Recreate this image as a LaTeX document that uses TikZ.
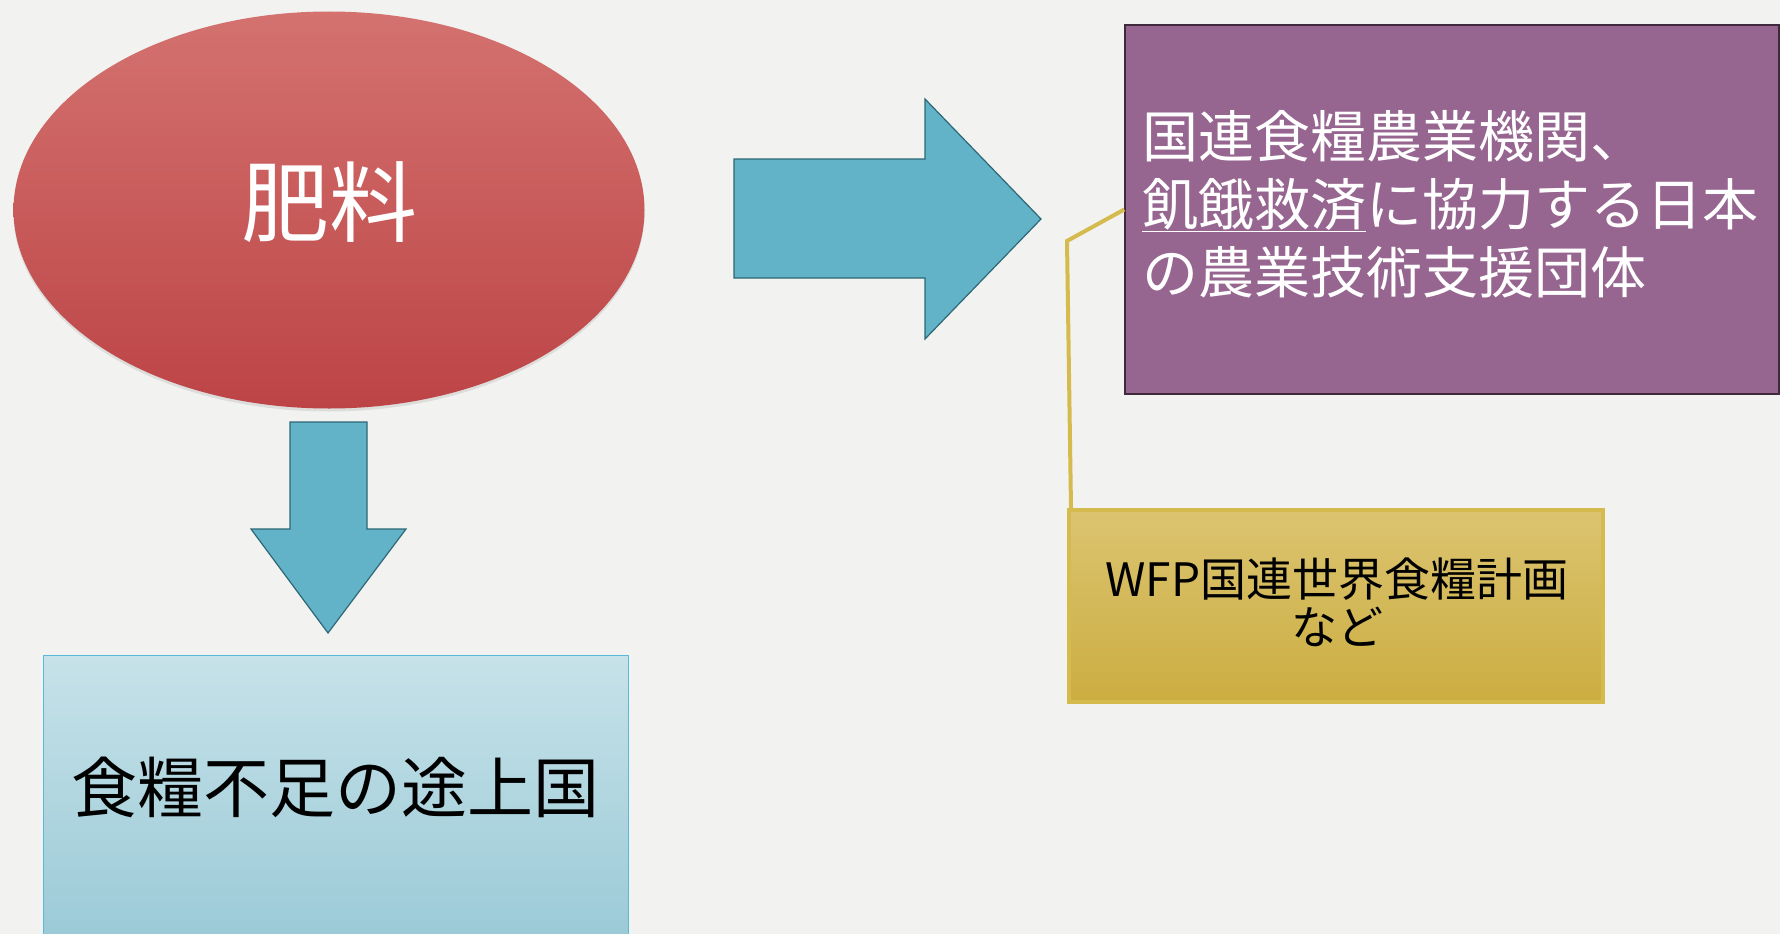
\documentclass[tikz,border=0pt]{standalone}
\usepackage{fontspec}
\setmainfont{Noto Sans CJK JP}
\usetikzlibrary{shapes.geometric,shadows}
\definecolor{bgc}{HTML}{F2F2F0}
\definecolor{redtop}{HTML}{D3726F}
\definecolor{redbot}{HTML}{BD4446}
\definecolor{arrowfill}{HTML}{62B3C8}
\definecolor{arrowline}{HTML}{2D6775}
\definecolor{purplefill}{HTML}{966590}
\definecolor{purpleline}{HTML}{3F2A3C}
\definecolor{goldtop}{HTML}{DCC470}
\definecolor{goldbot}{HTML}{CBAD41}
\definecolor{goldline}{HTML}{D5BB4D}
\definecolor{bluetop}{HTML}{C7E2E9}
\definecolor{bluebot}{HTML}{98C9D6}
\definecolor{blueline}{HTML}{5AB9D9}
\begin{document}
\begin{tikzpicture}[x=1pt,y=-1pt,
  redellipse/.style={ellipse, inner sep=0pt, minimum width=631pt, minimum height=397pt,
    top color=redtop, bottom color=redbot, draw=none, text=white,
    drop shadow={shadow xshift=0pt, shadow yshift=-3pt, opacity=0.15, fill=black!60}},
  blockarrow/.style={fill=arrowfill, draw=arrowline, line width=1.2pt, line join=miter},
  purplebox/.style={rectangle, fill=purplefill, draw=purpleline, line width=1.5pt, inner sep=0pt},
  goldbox/.style={rectangle, top color=goldtop, bottom color=goldbot, draw=goldline, line width=4pt, inner sep=0pt, text=black},
  bluebox/.style={rectangle, top color=bluetop, bottom color=bluebot, draw=blueline, line width=1pt, inner sep=0pt},
  leader/.style={draw=goldline, line width=4pt, line join=miter}
]
\clip (0,0) rectangle (1780,934);
\fill[bgc] (0,0) rectangle (1780,934);

% fertiliser ellipse
\node[redellipse] (fert) at (329,210) {};
\node[text=white, inner sep=0pt, font=\fontsize{88}{90}\selectfont] (ferttext) at (329,202) {肥料};

% block arrows
\path[blockarrow] (734,159) -- (925,159) -- (925,99) -- (1041,219) -- (925,339) -- (925,278) -- (734,278) -- cycle;
\path[blockarrow] (290,422) -- (367,422) -- (367,529) -- (406,529) -- (328,633) -- (251,529) -- (290,529) -- cycle;

% purple box
\node[purplebox, minimum width=654pt, minimum height=369pt] (fao) at (1452,209.5) {};
\node[anchor=west, align=left, text=white, inner sep=0pt,
      font=\fontsize{56}{68}\selectfont] (faotext) at (1142,204)
  {国連食糧農業機関、\\\underline{飢餓救済}に協力する日本\\の農業技術支援団体};

% gold box
\node[goldbox, minimum width=534pt, minimum height=192pt] (wfp) at (1336,606) {};
\node[align=center, inner sep=0pt, font=\fontsize{46}{48}\selectfont] (wfptext) at (1337,602) {WFP国連世界食糧計画\\など};

% leader line
\coordinate (bend) at (1067,241);
\draw[leader] (fao.west) -- (bend) -- ([xshift=4pt]wfp.north west);

% light blue box
\node[bluebox, minimum width=585pt, minimum height=300pt] (dev) at (335.5,805) {};
\node[inner sep=0pt, font=\fontsize{66}{70}\selectfont] (devtext) at (335,787) {食糧不足の途上国};
\end{tikzpicture}
\end{document}
